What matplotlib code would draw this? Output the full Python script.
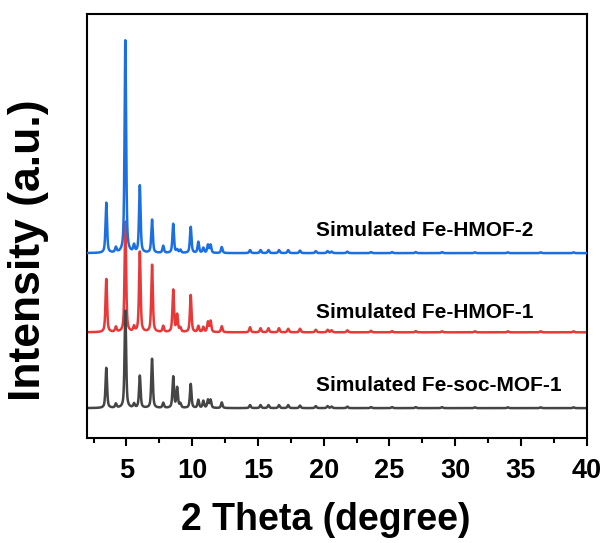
import numpy as np
import matplotlib
matplotlib.use("Agg")
import matplotlib.pyplot as plt
from matplotlib.ticker import MultipleLocator

plt.rcParams['font.family'] = ['Liberation Sans', 'DejaVu Sans']
plt.rcParams['font.weight'] = 'bold'

# Reflection positions (2theta, degree) shared by the three simulated patterns
peak_pos = [3.47, 4.20, 4.92, 5.58, 6.02, 6.95, 7.80, 8.56, 8.86, 9.10,
            9.89, 10.47, 10.85, 11.20, 11.40, 12.25, 14.40, 15.20, 15.80, 16.60,
            17.30, 18.20, 19.40, 20.30, 20.60, 21.80, 23.60, 25.20, 27.00, 29.00,
            31.50, 34.00, 36.50, 39.00]

# Relative intensities of each reflection
int_soc = [40, 4, 97, 4, 32, 49, 5, 31, 20, 4,
           24, 8, 7, 8, 8, 5.6, 3, 3, 3, 3,
           3, 2.5, 2, 2, 1.5, 1.5, 1, 1, 1, 1,
           0.8, 0.8, 0.8, 0.8]
int_hmof1 = [53, 5, 110, 5, 80, 67, 6, 42, 17, 4,
             37, 6, 5, 10, 11, 6, 5, 4, 4, 4,
             3.5, 3.5, 2.5, 2.5, 2, 2, 1.5, 1.2, 1.2, 1,
             1, 1, 1, 1]
int_hmof2 = [50, 5, 212, 7, 67, 33, 7, 29, 3, 3,
             26, 11, 5, 8, 8, 6, 3, 3, 3, 3,
             3, 2.5, 2, 2, 1.5, 1.5, 1, 1, 1, 1,
             0.8, 0.8, 0.8, 0.8]

labels = ["Simulated Fe-soc-MOF-1", "Simulated Fe-HMOF-1", "Simulated Fe-HMOF-2"]
offsets = [0.0, 75.6, 154.6]
colors = ["#454545", "#e83838", "#1c6fe0"]

x_ticks = [5, 10, 15, 20, 25, 30, 35, 40]


def pattern(two_theta, pos, inten, fwhm=0.14, eta=0.6):
    """Pseudo-Voigt broadening of a stick pattern."""
    y = np.zeros_like(two_theta)
    g = 4 * np.log(2) / fwhm ** 2
    for p, h in zip(pos, inten):
        d = two_theta - p
        lor = 1.0 / (1.0 + 4 * d ** 2 / fwhm ** 2)
        gau = np.exp(-g * d ** 2)
        y += h * (eta * lor + (1 - eta) * gau)
    return y


fig = plt.figure(figsize=(6.08, 5.43), dpi=100)
ax = fig.add_axes([0.143, 0.193, 0.822, 0.781])

tt = np.arange(2.0, 40.0001, 0.01)
series = [int_soc, int_hmof1, int_hmof2]
# draw order: HMOF-1 underneath, then soc-MOF-1, then HMOF-2 on top
for idx, z in zip(range(3), [2, 1, 3]):
    ax.plot(tt, pattern(tt, peak_pos, series[idx]) + offsets[idx],
            color=colors[idx], lw=1.8, zorder=z)

label_y = [22.3, 95.6, 177.3]
for lab, yy in zip(labels, label_y):
    ax.text(19.4, yy, lab, fontsize=15, fontweight='bold', va='center',
            ha='left', color='black')

ax.set_xlim(2, 40)
ax.set_ylim(-30, 393)
ax.set_xticks(x_ticks)
ax.xaxis.set_minor_locator(MultipleLocator(2.5))
ax.set_yticks([])
ax.tick_params(axis='x', which='major', direction='out', length=6, width=1.5,
               labelsize=19.5, pad=8)
ax.tick_params(axis='x', which='minor', direction='out', length=3.5, width=1.5)
for lbl in ax.get_xticklabels():
    lbl.set_fontweight('bold')
for sp in ax.spines.values():
    sp.set_linewidth(1.5)

fig.text(326 / 608, 1 - 530 / 543, "2 Theta (degree)", fontsize=27,
         fontweight='bold', ha='center', va='baseline')
fig.text(29 / 608, 1 - 250 / 543, "Intensity (a.u.)", fontsize=32,
         fontweight='bold', ha='center', va='center', rotation=90)

fig.savefig("out.png", dpi=100)
